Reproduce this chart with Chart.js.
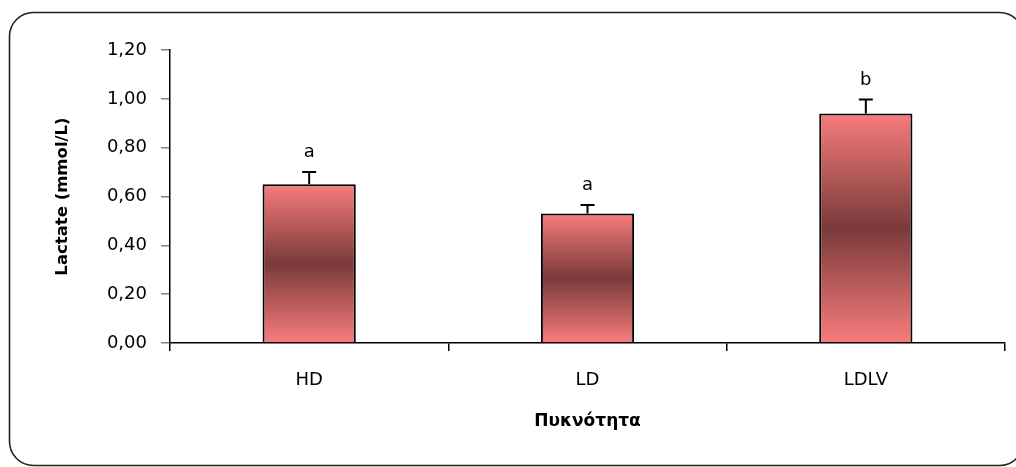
<!DOCTYPE html>
<html lang="el">
<head>
<meta charset="UTF-8">
<title>Lactate</title>
<script src="https://cdn.jsdelivr.net/npm/chart.js"></script>
<style>
  html, body { margin: 0; padding: 0; background: #fff; }
  #wrap { width: 1016px; height: 467px; }
</style>
</head>
<body>
<div id="wrap"><canvas id="grafico" width="1016" height="467"></canvas></div>

<script>
    // Δεδομένα
    var categorias = ['HD', 'LD', 'LDLV'];
    var medias = [0.65, 0.53, 0.94];
    var erros = [0.05, 0.035, 0.057];
    var letras = ['a', 'a', 'b'];
    var yTicks = [0, 0.2, 0.4, 0.6, 0.8, 1.0, 1.2];

    var fonte = "'Comic Sans MS', 'DejaVu Sans', sans-serif";

    // moldura arredondada em volta de tudo
    const moldura = {
        id: 'moldura',
        beforeDraw(chart) {
            const c = chart.ctx;
            c.save();
            c.fillStyle = '#fff';
            c.fillRect(0, 0, chart.width, chart.height);
            c.beginPath();
            c.roundRect(9.5, 12.5, 1014, 453, 24);
            c.strokeStyle = '#222';
            c.lineWidth = 1.6;
            c.stroke();
            c.restore();
        }
    };

    // barras de erro + letras de significância
    const barrasErro = {
        id: 'barrasErro',
        afterDatasetsDraw(chart) {
            const c = chart.ctx;
            const y = chart.scales.y;
            const meta = chart.getDatasetMeta(0);
            c.save();
            c.strokeStyle = '#000';
            c.lineWidth = 2;
            c.fillStyle = '#000';
            c.font = '18px ' + fonte;
            c.textAlign = 'center';
            c.textBaseline = 'alphabetic';
            for (let i = 0; i < medias.length; i++) {
                const x = meta.data[i].x;
                const yBar = y.getPixelForValue(medias[i]);
                const yTopo = y.getPixelForValue(medias[i] + erros[i]);
                c.beginPath();
                c.moveTo(x, yBar);
                c.lineTo(x, yTopo);
                c.moveTo(x - 7, yTopo);
                c.lineTo(x + 7, yTopo);
                c.stroke();
                c.fillText(letras[i], x, yTopo - 15);
            }
            c.restore();
        }
    };

    function gradiente(context) {
        const chart = context.chart;
        if (!chart.chartArea) return '#F47C7C';
        const y = chart.scales.y;
        const v = medias[context.dataIndex];
        const topo = y.getPixelForValue(v);
        const base = y.getPixelForValue(0);
        const g = chart.ctx.createLinearGradient(0, topo, 0, base);
        g.addColorStop(0, '#F77C7C');
        g.addColorStop(0.5, '#7A3A3A');
        g.addColorStop(1, '#F77D7D');
        return g;
    }

    new Chart(document.getElementById('grafico'), {
        type: 'bar',
        data: {
            labels: categorias,
            datasets: [{
                data: medias,
                backgroundColor: gradiente,
                borderColor: '#000',
                borderWidth: { top: 2, left: 2, right: 2, bottom: 0 },
                borderSkipped: 'bottom',
                categoryPercentage: 1,
                barPercentage: 0.335
            }]
        },
        options: {
            responsive: false,
            animation: false,
            layout: { padding: { left: 0, right: 11, top: 50, bottom: 0 } },
            plugins: {
                legend: { display: false },
                tooltip: { enabled: false }
            },
            scales: {
                x: {
                    offset: true,
                    grid: { offset: true, drawOnChartArea: false, tickLength: 8, color: '#000', lineWidth: 1.5 },
                    border: { color: '#000', width: 1.5 },
                    ticks: { color: '#000', padding: 19, font: { family: fonte, size: 18 } },
                    title: {
                        display: true,
                        text: 'Πυκνότητα',
                        color: '#000',
                        font: { family: fonte, size: 17, weight: 'bold' },
                        padding: { top: 0, bottom: 35 }
                    },
                    afterFit: s => { s.height = 124; }
                },
                y: {
                    min: 0,
                    max: 1.2,
                    afterBuildTicks: s => { s.ticks = yTicks.map(v => ({ value: v })); },
                    grid: { drawOnChartArea: false, tickLength: 9, color: '#808080', lineWidth: 1.5 },
                    border: { color: '#000', width: 1.5 },
                    ticks: {
                        color: '#000',
                        padding: 14,
                        font: { family: fonte, size: 18 },
                        callback: v => Number(v).toFixed(2).replace('.', ',')
                    },
                    title: {
                        display: true,
                        text: 'Lactate (mmol/L)',
                        color: '#000',
                        font: { family: fonte, size: 16.5, weight: 'bold' },
                        padding: { top: 53, bottom: 0 }
                    },
                    afterFit: s => { s.width = 170; }
                }
            }
        },
        plugins: [moldura, barrasErro]
    });
</script>
</body>
</html>
